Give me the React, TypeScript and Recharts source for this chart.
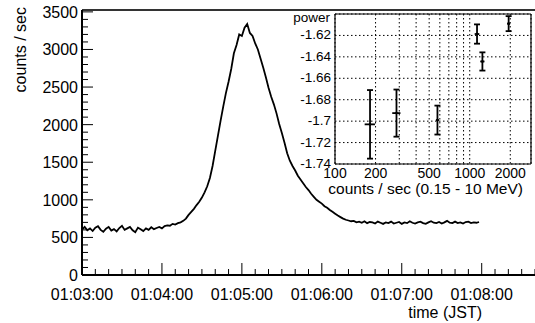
import React from "react";
import {
  CartesianGrid,
  ErrorBar,
  Line,
  LineChart,
  ReferenceLine,
  Scatter,
  ScatterChart,
  XAxis,
  YAxis,
} from "recharts";

const FONT = "'Liberation Sans', Arial, Helvetica, sans-serif";

// light curve: counts / sec in 2 s bins starting at 01:03:00 JST
const BIN_SEC = 2;
const COUNTS = [
  605, 640, 595, 620, 585, 630, 650, 600, 575, 615,
  640, 590, 610, 580, 625, 655, 600, 620, 640, 595,
  570, 630, 610, 585, 620, 600, 635, 610, 625, 640,
  620, 650, 660, 655, 680, 670, 690, 700, 720, 750,
  800, 840, 880, 930, 975, 1030, 1100, 1180, 1290, 1450,
  1650, 1850, 2050, 2240, 2420, 2570, 2740, 2950, 3060, 3200,
  3180, 3290, 3340, 3220, 3180, 3080, 3000, 2880, 2760, 2630,
  2490, 2370, 2270, 2150, 2010, 1890, 1760, 1620, 1520, 1450,
  1390, 1320, 1270, 1220, 1170, 1130, 1080, 1040, 1000, 975,
  950, 915, 895, 865, 840, 815, 790, 770, 750, 735,
  725, 715, 720, 700, 710, 695, 715, 690, 705, 700,
  685, 710, 695, 680, 700, 690, 710, 685, 695, 705,
  680, 700, 690, 715, 695, 685, 700, 710, 690, 680,
  700, 715, 695, 690, 705, 685, 700, 720, 695, 690,
  710, 690, 700, 685, 705, 710, 690, 700, 695, 705,
];

const TIME_LABELS = ["01:03:00", "01:04:00", "01:05:00", "01:06:00", "01:07:00", "01:08:00"];
const COUNT_LABELS = [0, 500, 1000, 1500, 2000, 2500, 3000, 3500];

// inset: power index vs count rate
const RATE = [182, 286, 576, 1133, 1242, 1945];
const RATE_ERR = [16, 20, 15, 45, 45, 50];
const POWER = [-1.703, -1.6925, -1.699, -1.6187, -1.6443, -1.609];
const POWER_ERR = [0.032, 0.022, 0.0135, 0.009, 0.0085, 0.007];

const INSET_X_TICKS = [100, 200, 300, 400, 500, 600, 700, 800, 900, 1000, 2000];
const INSET_X_LABELS = [100, 200, 500, 1000, 2000];
const INSET_Y_TICKS = [-1.74, -1.72, -1.7, -1.68, -1.66, -1.64, -1.62];

const T_MAX = 340;
const Y_MAX = 3525;

const curve = COUNTS.map((v, i) => ({ t: i * BIN_SEC, v }));
const xTicks: number[] = [];
for (let t = 0; t <= T_MAX; t += 10) xTicks.push(t);
const yTicks: number[] = [];
for (let v = 0; v <= 3500; v += 100) yTicks.push(v);

const inset = RATE.map((c, i) => ({ c, p: POWER[i], ex: RATE_ERR[i], ey: POWER_ERR[i] }));

const MainXTick = (props: any) => {
  const { x, y, payload } = props;
  const major = payload.value % 60 === 0;
  const label = major ? TIME_LABELS[payload.value / 60] : undefined;
  return (
    <g>
      <line x1={x} x2={x} y1={y} y2={y - (major ? 12 : 6)} stroke="#000" strokeWidth={1} />
      {label && (
        <text x={x} y={y + 25} textAnchor="middle" fontSize={16} fontFamily={FONT} fill="#000">
          {label}
        </text>
      )}
    </g>
  );
};

const MainYTick = (props: any) => {
  const { x, y, payload } = props;
  const major = COUNT_LABELS.includes(payload.value);
  return (
    <g>
      <line x1={x} x2={x + (major ? 11 : 6)} y1={y} y2={y} stroke="#000" strokeWidth={1} />
      {major && (
        <text x={x - 4} y={y + 6} textAnchor="end" fontSize={16} fontFamily={FONT} fill="#000">
          {payload.value}
        </text>
      )}
    </g>
  );
};

const InsetXTick = (props: any) => {
  const { x, y, payload } = props;
  if (!INSET_X_LABELS.includes(payload.value)) return <g />;
  return (
    <text x={x} y={y + 14} textAnchor="middle" fontSize={14} fontFamily={FONT} fill="#000">
      {payload.value}
    </text>
  );
};

const InsetYTick = (props: any) => {
  const { x, y, payload } = props;
  return (
    <text x={x - 4} y={y + 4} textAnchor="end" fontSize={13.5} fontFamily={FONT} fill="#000">
      {String(Number(payload.value.toFixed(2)))}
    </text>
  );
};

export default function App() {
  return (
    <div style={{ position: "absolute", left: 0, top: 0, width: 535, height: 323, background: "#fff" }}>
      <div style={{ position: "absolute", left: 0, top: 0 }}>
        <LineChart width={535} height={323} data={curve} margin={{ top: 10, right: 0, bottom: 0, left: 0 }}>
          <XAxis
            dataKey="t"
            type="number"
            domain={[0, T_MAX]}
            ticks={xTicks}
            interval={0}
            tick={<MainXTick />}
            tickLine={false}
            tickSize={0}
            tickMargin={0}
            axisLine={{ stroke: "#000", strokeWidth: 2 }}
            height={48}
          />
          <YAxis
            type="number"
            domain={[0, Y_MAX]}
            ticks={yTicks}
            interval={0}
            tick={<MainYTick />}
            tickLine={false}
            tickSize={0}
            tickMargin={0}
            axisLine={{ stroke: "#000", strokeWidth: 2 }}
            width={82}
            allowDataOverflow
          />
          <ReferenceLine y={Y_MAX} stroke="#333" strokeWidth={2} />
          <Line
            dataKey="v"
            type="linear"
            stroke="#000"
            strokeWidth={1.8}
            dot={false}
            activeDot={false}
            isAnimationActive={false}
          />
        </LineChart>
      </div>
      <div style={{ position: "absolute", left: 280, top: 0 }}>
        <ScatterChart width={255} height={200} margin={{ top: 14, right: 4, bottom: 0, left: 0 }}>
          <CartesianGrid stroke="#000" strokeDasharray="1.5 2.5" strokeWidth={1} />
          <XAxis
            dataKey="c"
            type="number"
            scale="log"
            domain={[100, 2850]}
            ticks={INSET_X_TICKS}
            interval={0}
            tick={<InsetXTick />}
            tickLine={false}
            tickSize={0}
            tickMargin={0}
            axisLine={{ stroke: "#000", strokeWidth: 1.2 }}
            height={36}
            allowDataOverflow
          />
          <YAxis
            dataKey="p"
            type="number"
            domain={[-1.74, -1.6]}
            ticks={INSET_Y_TICKS}
            interval={0}
            tick={<InsetYTick />}
            tickLine={false}
            tickSize={0}
            tickMargin={0}
            axisLine={{ stroke: "#000", strokeWidth: 1.2 }}
            width={55}
            allowDataOverflow
          />
          <ReferenceLine y={-1.6} stroke="#000" strokeWidth={1.2} />
          <ReferenceLine x={2850} stroke="#000" strokeWidth={1.2} />
          <Scatter
            data={inset}
            isAnimationActive={false}
            shape={(p: any) => <circle cx={p.cx} cy={p.cy} r={1.3} fill="#000" />}
          >
            <ErrorBar dataKey="ey" direction="y" width={3} stroke="#000" strokeWidth={1.8} />
            <ErrorBar dataKey="ex" direction="x" width={0} stroke="#000" strokeWidth={1.8} />
          </Scatter>
        </ScatterChart>
      </div>
      <svg
        width={535}
        height={323}
        style={{ position: "absolute", left: 0, top: 0, pointerEvents: "none" }}
        fontFamily={FONT}
      >
        <text x={26} y={7} transform="rotate(-90, 26, 7)" textAnchor="end" fontSize={16} fill="#000">
          counts / sec
        </text>
        <text x={482} y={318} textAnchor="end" fontSize={16} fill="#000">
          time (JST)
        </text>
        <text x={330} y={22} textAnchor="end" fontSize={13.5} fill="#000">
          power
        </text>
        <text x={523} y={194} textAnchor="end" fontSize={15.5} fill="#000">
          counts / sec (0.15 - 10 MeV)
        </text>
      </svg>
    </div>
  );
}
